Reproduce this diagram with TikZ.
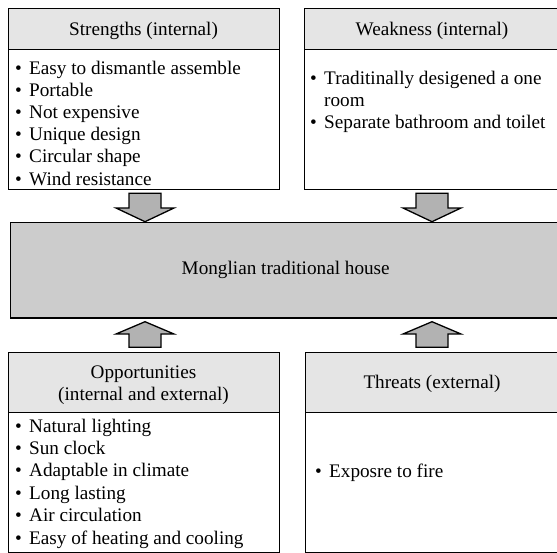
\documentclass[tikz,border=0pt]{standalone}
\usepackage{fontspec}
\setmainfont{Liberation Serif}
\begin{document}
\begin{tikzpicture}[x=1pt,y=-1pt,
  every node/.style={font=\fontsize{19.2}{22.4}\selectfont},
  hdr/.style={draw=black, line width=1.4pt, fill=black!10, anchor=north west, inner sep=0pt},
  bodybox/.style={draw=black, line width=1.4pt, fill=white, anchor=north west, inner sep=0pt},
  centerbox/.style={draw=black, line width=1.4pt, fill=black!20, anchor=north west, inner sep=0pt},
  title/.style={anchor=base, inner sep=0pt},
  item/.style={anchor=base west, inner sep=0pt},
  blockarrow/.style={draw=black, line width=1.3pt, fill=black!30, line join=miter}]
\useasboundingbox (0,0) rectangle (557,552);
\clip (0,0) rectangle (557,552);
\newcommand{\bul}{\makebox[14pt][l]{•}}
% Strengths
\node[hdr, minimum width=271pt, minimum height=41pt] (Sh) at (8,8) {};
\node[bodybox, minimum width=271pt, minimum height=140pt] (Sb) at (8,49) {};
\node[title] (St) at (143.5,35) {Strengths (internal)};
\foreach \t [count=\i] in {Easy to dismantle assemble, Portable, Not expensive, Unique design, Circular shape, Wind resistance}
  \node[item] (s\i) at (15,{74.5+22.1*(\i-1)}) {\bul\t};
% Weakness
\node[hdr, minimum width=256pt, minimum height=41pt] (Wh) at (304,8) {};
\node[bodybox, minimum width=256pt, minimum height=140pt] (Wb) at (304,49) {};
\node[title] (Wt) at (432,35) {Weakness (internal)};
\node[item] (w1) at (310,84) {\bul Traditinally desigened a one};
\node[item] (w2) at (310,106) {\hspace*{14pt}room};
\node[item] (w3) at (310,128.5) {\bul Separate bathroom and toilet};
% Central
\node[centerbox, minimum width=550pt, minimum height=95.6pt] (C) at (10,221.7) {};
\node (Ct) at (C.center) {Monglian traditional house};
% Opportunities
\node[hdr, minimum width=271pt, minimum height=60pt] (Oh) at (8,351.7) {};
\node[bodybox, minimum width=271pt, minimum height=140pt] (Ob) at (8,411.7) {};
\node[title] (Ot1) at (143.5,378.5) {Opportunities};
\node[title] (Ot2) at (143.5,400) {(internal and external)};
\foreach \t [count=\i] in {Natural lighting, Sun clock, Adaptable in climate, Long lasting, Air circulation, Easy of heating and cooling}
  \node[item] (o\i) at (15,{432+22.4*(\i-1)}) {\bul\t};
% Threats
\node[hdr, minimum width=255pt, minimum height=60pt] (Th) at (305,351.7) {};
\node[bodybox, minimum width=255pt, minimum height=140pt] (Tb) at (305,411.7) {};
\node[title] (Tt) at (432,388) {Threats (external)};
\node[item] (t1) at (315,477.5) {\bul Exposre to fire};
% Block arrows
\draw[blockarrow] (129,193.3) -- (161,193.3) -- (161,208) -- (174,208) -- (145,221.7) -- (116,208) -- (129,208) -- cycle;
\draw[blockarrow] (416,193.3) -- (448,193.3) -- (448,208) -- (461,208) -- (432,221.7) -- (403,208) -- (416,208) -- cycle;
\draw[blockarrow] (129,347.3) -- (161,347.3) -- (161,334) -- (174,334) -- (145,321.7) -- (116,334) -- (129,334) -- cycle;
\draw[blockarrow] (416,347.3) -- (448,347.3) -- (448,334) -- (461,334) -- (432,321.7) -- (403,334) -- (416,334) -- cycle;
\end{tikzpicture}
\end{document}
